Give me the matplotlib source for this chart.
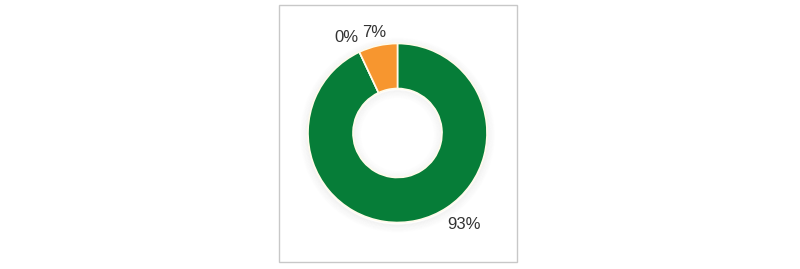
import numpy as np
import matplotlib.pyplot as plt
from matplotlib.patches import Rectangle, Wedge

plt.rcParams['font.family'] = ['Liberation Sans', 'DejaVu Sans']

# data
labels = ['93%', '0%', '7%']
values = [93, 0, 7]
colors = ['#067d38', '#9e9e9e', '#f7962f']

W, H = 800, 269
cx, cy = 397.5, H - 133
r_out, r_in = 89.5, 44.5

# label offsets from centre (pixels), screen layout only
label_pos = [(66.5, -91.5), (-51, 95.5), (-23, 100.5)]

fig = plt.figure(figsize=(W / 100, H / 100), dpi=100)
ax = fig.add_axes([0, 0, 1, 1])
ax.set_xlim(0, W)
ax.set_ylim(0, H)
ax.set_aspect('equal')
ax.axis('off')

ax.add_patch(Rectangle((278.5, H - 262), 238, 257, facecolor='white',
                       edgecolor='#c8c8c8', lw=1, zorder=0))

# soft shadow outside and inside the ring
for k in range(10):
    ax.add_patch(Wedge((cx, cy - 2), r_out + 1 + k * 0.8, 0, 360, width=1.2,
                       facecolor='black', edgecolor='none',
                       alpha=0.035 * (1 - k / 10), zorder=1))
    ax.add_patch(Wedge((cx, cy - 1.5), r_in - k * 0.8, 0, 360, width=1.2,
                       facecolor='black', edgecolor='none',
                       alpha=0.03 * (1 - k / 10), zorder=1))

wedges, _ = ax.pie(values, colors=colors, startangle=90, counterclock=False,
                   center=(cx, cy), radius=r_out, frame=True,
                   wedgeprops=dict(width=r_out - r_in, edgecolor='#fffbea',
                                   linewidth=1.2))
for w in wedges:
    w.set_zorder(2)
ax.set_xlim(0, W)
ax.set_ylim(0, H)
ax.axis('off')

for lab, (dx, dy) in zip(labels, label_pos):
    ax.text(cx + dx, cy + dy, lab, ha='center', va='center',
            fontsize=12, color='#333333', zorder=3)

fig.savefig('out.png', dpi=100)
